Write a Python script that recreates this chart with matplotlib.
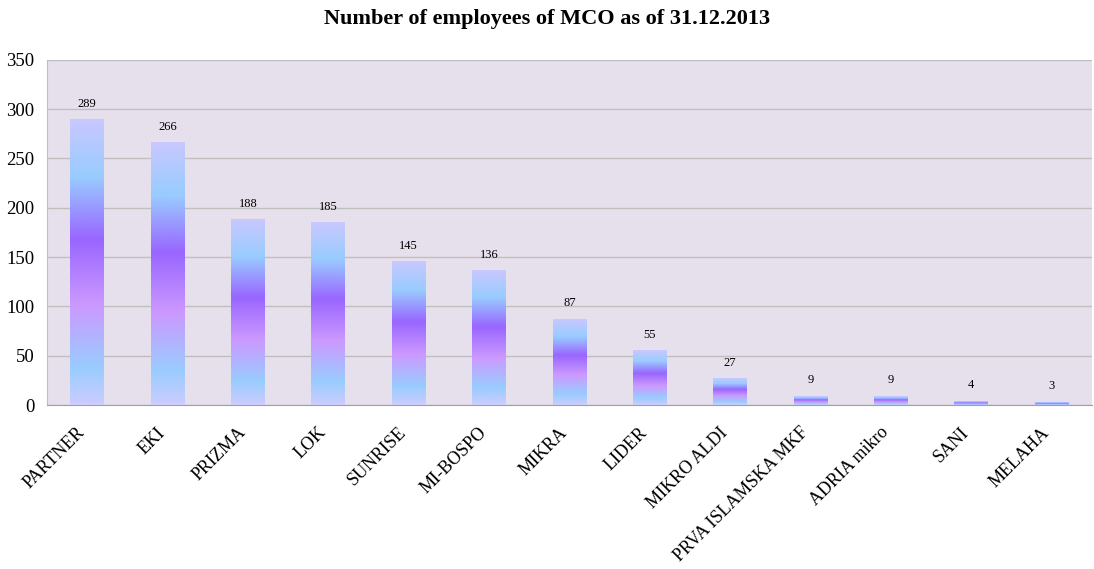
import numpy as np
import matplotlib.pyplot as plt
import matplotlib.transforms as mtransforms
from matplotlib.colors import LinearSegmentedColormap

plt.rcParams['font.family'] = ['Liberation Serif', 'DejaVu Serif']

categories = ['PARTNER', 'EKI', 'PRIZMA', 'LOK', 'SUNRISE', 'MI-BOSPO', 'MIKRA',
              'LIDER', 'MIKRO ALDI', 'PRVA ISLAMSKA MKF', 'ADRIA mikro', 'SANI', 'MELAHA']
employees = [289, 266, 188, 185, 145, 136, 87, 55, 27, 9, 9, 4, 3]

# bottom -> top gradient
grad = LinearSegmentedColormap.from_list('bar', [
    (0.0, '#CCCCFF'), (0.13, '#99CCFF'), (0.35, '#CC99FF'),
    (0.58, '#9966FF'), (0.80, '#99CCFF'), (1.0, '#C8C8FF')])

fig = plt.figure(figsize=(10.94, 5.69), dpi=100)
ax = fig.add_axes([0.043, 0.288, 0.955, 0.607])
ax.set_facecolor('#E6E0EC')

x = np.arange(len(categories))
w = 0.42
bars = ax.bar(x, employees, width=w, color='none', zorder=3)
g = np.linspace(0, 1, 256).reshape(-1, 1)
for b in bars:
    x0, h = b.get_x(), b.get_height()
    ax.imshow(g, cmap=grad, origin='lower', aspect='auto',
              extent=[x0, x0 + w, 0, h], zorder=3)

for xi, v in zip(x, employees):
    ax.text(xi, v + 10, str(v), ha='center', va='bottom', fontsize=9)

ax.set_xlim(-0.5, len(categories) - 0.5)
ax.set_ylim(0, 350)
ax.set_yticks(range(0, 351, 50))
ax.yaxis.grid(True, color='#BFBFBF', linewidth=1, zorder=0)
ax.set_axisbelow(True)
ax.set_xticks(x)
ax.set_xticklabels([])

# category labels, placed by hand so they sit like the original
shift = mtransforms.ScaledTranslation(-0.11, -0.19, fig.dpi_scale_trans)
for xi, lab in zip(x, categories):
    ax.text(xi, 0, lab, transform=ax.get_xaxis_transform() + shift,
            rotation=45, ha='right', va='top', rotation_mode='anchor',
            fontsize=13)

ax.tick_params(axis='y', labelsize=13.5, length=0, pad=9)
ax.tick_params(axis='x', length=0)
for s in ['top', 'right']:
    ax.spines[s].set_visible(False)
ax.spines['left'].set_color('#BFBFBF')
ax.spines['bottom'].set_color('#A0A0A0')

fig.suptitle('Number of employees of MCO as of 31.12.2013', y=0.985,
             fontsize=16, fontweight='bold')

fig.savefig('out.png', dpi=100)
